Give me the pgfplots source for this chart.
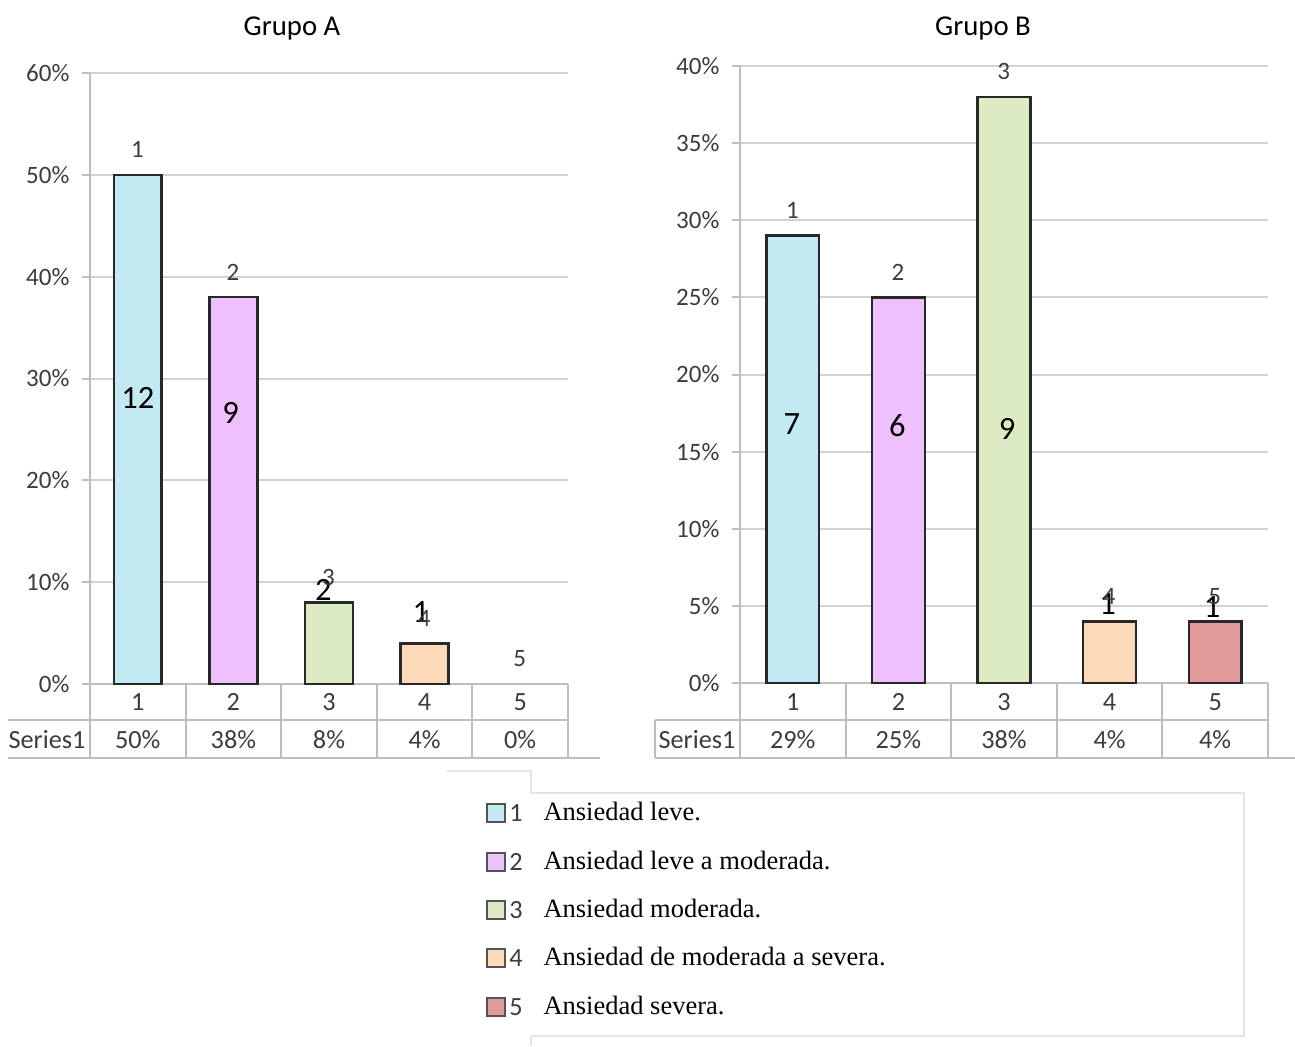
\documentclass[border=0pt]{standalone}
\usepackage{pgfplots}
\pgfplotsset{compat=1.18}
\usepackage{fontspec}
\setmainfont{Carlito}
\newfontfamily\legserif{Liberation Serif}
\definecolor{c1}{RGB}{195,233,243}
\definecolor{c2}{RGB}{238,192,253}
\definecolor{c3}{RGB}{221,235,197}
\definecolor{c4}{RGB}{252,217,184}
\definecolor{c5}{RGB}{224,154,154}
\definecolor{bd}{RGB}{40,40,40}
\definecolor{gridc}{RGB}{210,210,210}
\definecolor{tabc}{RGB}{190,190,190}
\definecolor{lab}{RGB}{60,60,60}
\definecolor{legc}{RGB}{228,228,228}

\pgfplotsset{
  bstyle/.style={ybar, bar shift=0pt, bar width=0.5, draw=bd, line width=1pt, fill=#1,
    point meta=x, nodes near coords={\pgfmathprintnumber{\pgfplotspointmeta}},
    every node near coord/.append style={text=lab, font=\fontsize{10}{11}\selectfont, inner sep=0pt, xshift=-3.2pt, yshift=10pt}},
  common/.style={
    scale only axis, anchor=south west,
    xmin=0.5, xmax=5.5, ymin=0,
    xtick=\empty,
    axis lines*=left,
    axis line style={tabc, line width=0.8pt},
    ymajorgrids, grid style={gridc, line width=0.8pt},
    tick align=outside, major tick length=3.2pt,
    ytick style={tabc, line width=0.8pt},
    yticklabel={\pgfmathprintnumber{\tick}\%},
    /pgf/number format/assume math mode=true,
    yticklabel style={text=lab, font=\fontsize{10}{11}\selectfont, xshift=-1.5pt},
    clip=false,
  },
}

\begin{document}
\begin{tikzpicture}
\path[use as bounding box] (0,0) rectangle (518pt,-418.4pt);

% ---------------- Grupo A ----------------
\begin{axis}[common, at={(36pt,-273.6pt)}, width=191.2pt, height=244.4pt,
  ymax=60, ytick={0,10,...,60}]
\addplot[bstyle=c1] coordinates {(1,50)};
\addplot[bstyle=c2] coordinates {(2,38)};
\addplot[bstyle=c3] coordinates {(3,8)};
\addplot[bstyle=c4] coordinates {(4,4)};
\addplot[bstyle=c5, draw=none, fill=none] coordinates {(5,0)};
\node[font=\fontsize{13}{14}\selectfont] at (axis cs:1,28.1) {12};
\node[font=\fontsize{13}{14}\selectfont] at (axis cs:1.97,26.6) {9};
\node[font=\fontsize{13}{14}\selectfont] at (axis cs:2.94,9.2) {2};
\node[font=\fontsize{13}{14}\selectfont] at (axis cs:3.96,7.1) {1};
\end{axis}

% ---------------- Grupo B ----------------
\begin{axis}[common, at={(296pt,-273.2pt)}, width=211.2pt, height=246.8pt,
  ymax=40, ytick={0,5,...,40}]
\addplot[bstyle=c1] coordinates {(1,29)};
\addplot[bstyle=c2] coordinates {(2,25)};
\addplot[bstyle=c3] coordinates {(3,38)};
\addplot[bstyle=c4] coordinates {(4,4)};
\addplot[bstyle=c5] coordinates {(5,4)};
\node[font=\fontsize{13}{14}\selectfont] at (axis cs:0.99,16.8) {7};
\node[font=\fontsize{13}{14}\selectfont] at (axis cs:1.99,16.7) {6};
\node[font=\fontsize{13}{14}\selectfont] at (axis cs:3.03,16.5) {9};
\node[font=\fontsize{13}{14}\selectfont] at (axis cs:3.98,5.1) {1};
\node[font=\fontsize{13}{14}\selectfont] at (axis cs:4.97,4.9) {1};
\end{axis}

\begin{scope}[x=0.4pt, y=-0.4pt]
% titles
\node[font=\fontsize{11.5}{13}\selectfont] at (292,28) {Grupo A};
\node[font=\fontsize{11.5}{13}\selectfont] at (983,28) {Grupo B};

% ---- table A ----
\draw[tabc, line width=0.8pt] (8,720) -- (568,720);
\draw[tabc, line width=0.8pt] (8,758) -- (600,758);
\foreach \xx in {90,185.6,281.2,376.8,472.4,568} {
  \draw[tabc, line width=0.8pt] (\xx,684) -- (\xx,758);
}
\node[text=lab, font=\fontsize{10.5}{11}\selectfont] at (47,740) {Series1};
\foreach \xx/\n/\v in {137.8/1/50\%,233.4/2/38\%,329/3/8\%,424.6/4/4\%,520.2/5/0\%} {
  \node[text=lab, font=\fontsize{10.5}{11}\selectfont] at (\xx,702) {\n};
  \node[text=lab, font=\fontsize{10.5}{11}\selectfont] at (\xx,740) {\v};
}

% ---- table B ----
\draw[tabc, line width=0.8pt] (655,720) -- (1268,720);
\draw[tabc, line width=0.8pt] (655,758) -- (1295,758);
\draw[tabc, line width=0.8pt] (655,720) -- (655,758);
\foreach \xx in {740,845.6,951.2,1056.8,1162.4,1268} {
  \draw[tabc, line width=0.8pt] (\xx,683) -- (\xx,758);
}
\node[text=lab, font=\fontsize{10.5}{11}\selectfont] at (697,740) {Series1};
\foreach \xx/\n/\v in {792.8/1/29\%,898.4/2/25\%,1004/3/38\%,1109.6/4/4\%,1215.2/5/4\%} {
  \node[text=lab, font=\fontsize{10.5}{11}\selectfont] at (\xx,702) {\n};
  \node[text=lab, font=\fontsize{10.5}{11}\selectfont] at (\xx,740) {\v};
}

% ---- legend frame ----
\draw[legc, line width=0.8pt] (447,771) -- (531,771) -- (531,793) -- (1244,793) -- (1244,1036) -- (531,1036) -- (531,1046);

% ---- legend entries ----
\foreach \yy/\c/\n/\t in {813/c1/1/Ansiedad leve.,862/c2/2/Ansiedad leve a moderada.,910/c3/3/Ansiedad moderada.,958/c4/4/Ansiedad de moderada a severa.,1007/c5/5/Ansiedad severa.} {
  \draw[fill=\c, draw=bd!80, line width=0.9pt] (487,\yy-9) rectangle (505,\yy+9);
  \node[text=lab, font=\fontsize{10.5}{12}\selectfont] at (516,\yy) {\n};
  \node[anchor=west, inner sep=0pt, font=\legserif\fontsize{10.6}{12}\selectfont] at (543,\yy-2) {\t};
}
\end{scope}
\end{tikzpicture}
\end{document}
